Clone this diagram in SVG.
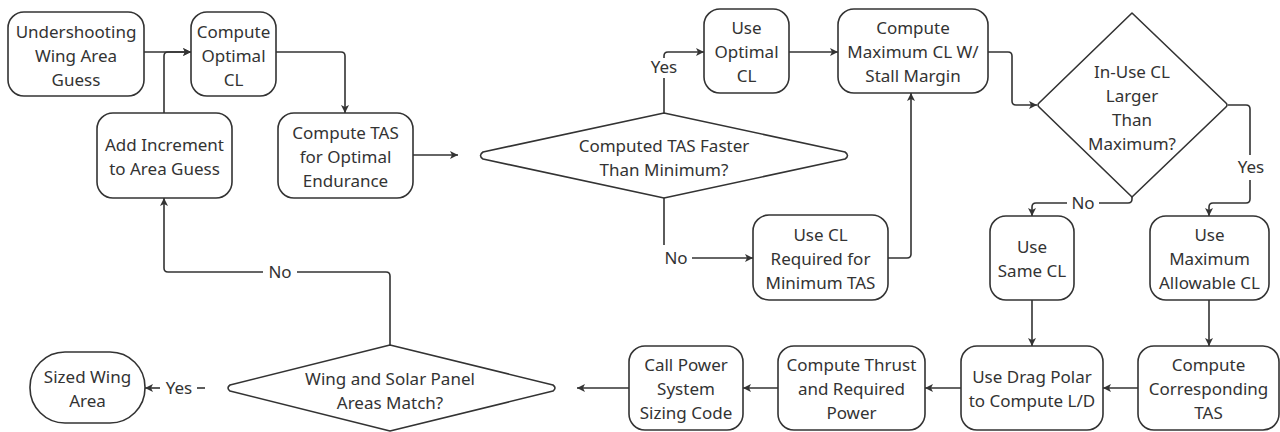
<svg xmlns="http://www.w3.org/2000/svg" width="1280" height="432" viewBox="0 0 1280 432">
  <style>
    .box { fill: #ffffff; stroke: #333333; stroke-width: 1.6; }
    .dia { fill: #ffffff; stroke: #333333; stroke-width: 1.6; stroke-linejoin: round; }
    .lbl { font-family: "Noto Sans", "Open Sans", sans-serif; font-size: 17px; fill: #333333; text-anchor: middle; }
    .edge { fill: none; stroke: #333333; stroke-width: 1.6; }
    .arrow { marker-end: url(#head); }
  </style>
  <defs>
    <marker id="head" viewBox="0 0 10 10" refX="10" refY="5" markerWidth="8" markerHeight="8" markerUnits="userSpaceOnUse" orient="auto">
      <path d="M0,0 L10,5 L0,10 L2.5,5 Z" fill="#333333"/>
    </marker>
  </defs>
  <rect width="1280" height="432" fill="#ffffff"/>

  <!-- connectors -->
  <g id="connectors">
    <path class="edge arrow" d="M144,52 H191"/>
    <path class="edge arrow" d="M164,113 V56 Q164,52 168,52 H191"/>
    <path class="edge arrow" d="M276,52 H341 Q345,52 345,56 V113"/>
    <path class="edge arrow" d="M413,155 H458"/>
    <path class="edge" d="M664,113 V78"/>
    <path class="edge arrow" d="M664,58 V56 Q664,52 668,52 H704"/>
    <path class="edge arrow" d="M789,52 H838"/>
    <path class="edge arrow" d="M988,52 H1008 Q1012,52 1012,56 V101 Q1012,105 1016,105 H1037"/>
    <path class="edge" d="M1228,105 H1246 Q1250,105 1250,109 V155"/>
    <path class="edge arrow" d="M1250,180 V199 Q1250,203 1246,203 H1213 Q1209,203 1209,207 V216"/>
    <path class="edge" d="M1132,197 V199 Q1132,203 1128,203 H1099"/>
    <path class="edge arrow" d="M1067,203 H1036 Q1032,203 1032,207 V216"/>
    <path class="edge" d="M664,198 V245"/>
    <path class="edge arrow" d="M692,258 H753"/>
    <path class="edge arrow" d="M888,258 H907 Q911,258 911,254 V93"/>
    <path class="edge arrow" d="M1032,300 V346"/>
    <path class="edge arrow" d="M1209,300 V346"/>
    <path class="edge arrow" d="M1138,388 H1103"/>
    <path class="edge arrow" d="M961,388 H925"/>
    <path class="edge arrow" d="M778,388 H743"/>
    <path class="edge arrow" d="M629,388 H577"/>
    <path class="edge" d="M205,388 H197"/>
    <path class="edge arrow" d="M160,388 H145"/>
    <path class="edge" d="M390,345 V276 Q390,272 386,272 H297"/>
    <path class="edge arrow" d="M263,272 H168 Q164,272 164,268 V198"/>
    <text class="lbl" x="664" y="73">Yes</text>
    <text class="lbl" x="1251" y="173">Yes</text>
    <text class="lbl" x="1083" y="209">No</text>
    <text class="lbl" x="676" y="264">No</text>
    <text class="lbl" x="280" y="278">No</text>
    <text class="lbl" x="179" y="394">Yes</text>
  </g>

  <g id="n-undershoot">
    <rect class="box" x="8" y="12" width="136" height="84" rx="16"/>
    <text class="lbl" x="76" y="38">Undershooting</text>
    <text class="lbl" x="76" y="62">Wing Area</text>
    <text class="lbl" x="76" y="86">Guess</text>
  </g>
  <g id="n-optimal-cl">
    <rect class="box" x="191" y="12" width="85" height="84" rx="16"/>
    <text class="lbl" x="233.5" y="38">Compute</text>
    <text class="lbl" x="233.5" y="62">Optimal</text>
    <text class="lbl" x="233.5" y="86">CL</text>
  </g>
  <g id="n-add-increment">
    <rect class="box" x="97" y="113" width="135" height="85" rx="16"/>
    <text class="lbl" x="164.5" y="151">Add Increment</text>
    <text class="lbl" x="164.5" y="175">to Area Guess</text>
  </g>
  <g id="n-tas-endurance">
    <rect class="box" x="278" y="113" width="135" height="85" rx="16"/>
    <text class="lbl" x="345.5" y="139">Compute TAS</text>
    <text class="lbl" x="345.5" y="163">for Optimal</text>
    <text class="lbl" x="345.5" y="187">Endurance</text>
  </g>
  <g id="n-tas-check">
    <path class="dia" d="M664,113 L845,152 Q850,155.5 845,159 L664,198 L483,159 Q478,155.5 483,152 Z"/>
    <text class="lbl" x="664" y="152">Computed TAS Faster</text>
    <text class="lbl" x="664" y="176">Than Minimum?</text>
  </g>
  <g id="n-use-optimal">
    <rect class="box" x="704" y="9" width="85" height="84" rx="16"/>
    <text class="lbl" x="746.5" y="34">Use</text>
    <text class="lbl" x="746.5" y="58">Optimal</text>
    <text class="lbl" x="746.5" y="82">CL</text>
  </g>
  <g id="n-max-cl">
    <rect class="box" x="838" y="9" width="150" height="84" rx="16"/>
    <text class="lbl" x="913" y="34">Compute</text>
    <text class="lbl" x="913" y="58">Maximum CL W/</text>
    <text class="lbl" x="913" y="82">Stall Margin</text>
  </g>
  <g id="n-cl-check">
    <path class="dia" d="M1132,13 L1226,103 Q1228,105 1226,107 L1132,197 L1039,107 Q1037,105 1039,103 Z"/>
    <text class="lbl" x="1132" y="78">In-Use CL</text>
    <text class="lbl" x="1132" y="102">Larger</text>
    <text class="lbl" x="1132" y="126">Than</text>
    <text class="lbl" x="1132" y="150">Maximum?</text>
  </g>
  <g id="n-cl-required">
    <rect class="box" x="753" y="215" width="135" height="85" rx="16"/>
    <text class="lbl" x="820.5" y="241">Use CL</text>
    <text class="lbl" x="820.5" y="265">Required for</text>
    <text class="lbl" x="820.5" y="289">Minimum TAS</text>
  </g>
  <g id="n-same-cl">
    <rect class="box" x="990" y="216" width="84" height="84" rx="16"/>
    <text class="lbl" x="1032" y="253">Use</text>
    <text class="lbl" x="1032" y="277">Same CL</text>
  </g>
  <g id="n-max-allowable">
    <rect class="box" x="1150" y="216" width="119" height="84" rx="16"/>
    <text class="lbl" x="1209.5" y="241">Use</text>
    <text class="lbl" x="1209.5" y="265">Maximum</text>
    <text class="lbl" x="1209.5" y="289">Allowable CL</text>
  </g>
  <g id="n-drag-polar">
    <rect class="box" x="961" y="346" width="142" height="84" rx="16"/>
    <text class="lbl" x="1032" y="383">Use Drag Polar</text>
    <text class="lbl" x="1032" y="407">to Compute L/D</text>
  </g>
  <g id="n-corresponding-tas">
    <rect class="box" x="1138" y="346" width="141" height="84" rx="16"/>
    <text class="lbl" x="1208.5" y="371">Compute</text>
    <text class="lbl" x="1208.5" y="395">Corresponding</text>
    <text class="lbl" x="1208.5" y="419">TAS</text>
  </g>
  <g id="n-thrust-power">
    <rect class="box" x="778" y="346" width="147" height="84" rx="16"/>
    <text class="lbl" x="851.5" y="371">Compute Thrust</text>
    <text class="lbl" x="851.5" y="395">and Required</text>
    <text class="lbl" x="851.5" y="419">Power</text>
  </g>
  <g id="n-power-sizing">
    <rect class="box" x="629" y="346" width="114" height="84" rx="16"/>
    <text class="lbl" x="686" y="371">Call Power</text>
    <text class="lbl" x="686" y="395">System</text>
    <text class="lbl" x="686" y="419">Sizing Code</text>
  </g>
  <g id="n-area-check">
    <path class="dia" d="M390,345 L553,385 Q557,388 553,391 L390,431 L230,391 Q226,388 230,385 Z"/>
    <text class="lbl" x="390" y="385">Wing and Solar Panel</text>
    <text class="lbl" x="390" y="409">Areas Match?</text>
  </g>
  <g id="n-sized-wing">
    <rect class="box" x="30" y="352" width="115" height="71" rx="35"/>
    <text class="lbl" x="87.5" y="383">Sized Wing</text>
    <text class="lbl" x="87.5" y="407">Area</text>
  </g>
</svg>
